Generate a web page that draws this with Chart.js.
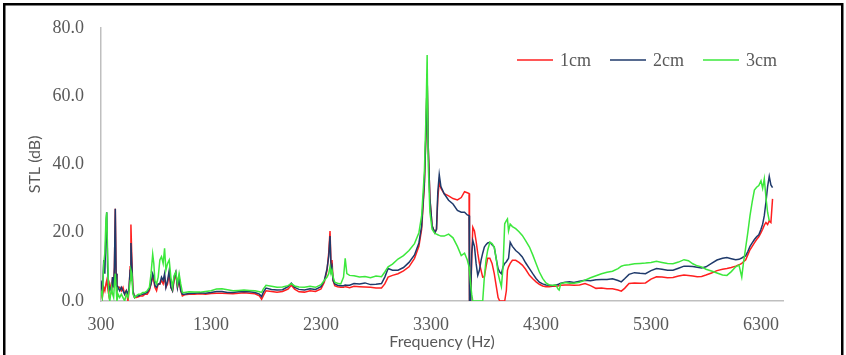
<!DOCTYPE html>
<html>
<head>
<meta charset="utf-8">
<title>STL vs frequency</title>
<script src="https://cdn.jsdelivr.net/npm/chart.js@4.4.1/dist/chart.umd.min.js"></script>
<style>
  html, body { margin: 0; padding: 0; background: #fff; }
  #wrap { position: relative; width: 846px; height: 355px; }
</style>
</head>
<body>
<div id="wrap"><canvas id="stlChart"></canvas></div>
<script>
// frequency points (Hz), shared by the three series
const freq = [
  300, 312, 325, 335, 345, 352, 360, 370, 380, 395,
  405, 415, 422, 430, 437, 445, 455, 470, 485, 500,
  515, 530, 545, 555, 565, 572, 580, 590, 605, 620,
  640, 660, 680, 700, 720, 740, 755, 770, 780, 790,
  805, 820, 835, 850, 865, 878, 890, 905, 920, 935,
  950, 965, 980, 995, 1010, 1025, 1040, 1060, 1100, 1150,
  1200, 1250, 1300, 1350, 1400, 1450, 1500, 1550, 1600, 1650,
  1700, 1740, 1760, 1775, 1800, 1850, 1900, 1950, 2000, 2030,
  2060, 2100, 2150, 2200, 2250, 2300, 2330, 2355, 2370, 2382,
  2392, 2400, 2410, 2425, 2450, 2480, 2505, 2520, 2535, 2560,
  2600, 2650, 2700, 2750, 2800, 2850, 2880, 2910, 2950, 3000,
  3050, 3100, 3150, 3190, 3215, 3240, 3255, 3265, 3275, 3290,
  3310, 3335, 3350, 3362, 3375, 3390, 3420, 3460, 3500, 3540,
  3575, 3605, 3630, 3646, 3650, 3660, 3670, 3680, 3695, 3710,
  3725, 3740, 3755, 3770, 3785, 3800, 3815, 3835, 3855, 3875,
  3895, 3910, 3925, 3940, 3955, 3970, 3985, 3995, 4005, 4020,
  4040, 4070, 4100, 4130, 4160, 4195, 4225, 4255, 4285, 4315,
  4345, 4375, 4405, 4435, 4455, 4465, 4480, 4520, 4560, 4600,
  4650, 4700, 4750, 4800, 4850, 4900, 4950, 5000, 5030, 5060,
  5100, 5150, 5200, 5250, 5300, 5350, 5400, 5450, 5500, 5550,
  5600, 5640, 5680, 5720, 5760, 5800, 5850, 5900, 5950, 5990,
  6030, 6070, 6100, 6125, 6140, 6160, 6180, 6200, 6220, 6240,
  6260, 6280, 6300, 6315, 6330, 6345, 6360, 6375, 6390, 6405
];

// STL (dB)
const stl1cm = [
  3, 1, 4, 3, 5, 6, 4, 2, 5, 3,
  7, 4, 10, 27, 8, 3, 4, 4, 3, 4,
  2, 3, 0, 3, 10, 22.4, 13, 3, 1, 1,
  1.2, 1.5, 1.5, 2, 2, 3, 5, 7, 6, 4,
  3, 5, 5, 6, 5, 7, 4, 5, 8, 4,
  3, 6, 8, 4, 6, 3, 1.5, 1.8, 2, 2,
  2.1, 2, 2.2, 2.3, 2.3, 2.2, 2.1, 2.3, 2.4, 2.3,
  2.1, 1.5, 0.5, 1.5, 3, 2.8, 2.6, 2.8, 3.5, 4.6,
  3.5, 2.7, 2.6, 3, 2.8, 3.5, 5.5, 9, 14, 20.5,
  10, 12, 6, 4.5, 4.2, 4, 4, 4.2, 4.1, 3.9,
  4.3, 4.2, 4.1, 4, 3.8, 3.8, 5, 7, 7.5, 8,
  8.8, 10, 12.5, 16, 21, 34, 50, 65.5, 45, 30,
  22, 20, 21, 30, 35, 33, 31.4, 30.8, 30, 29.6,
  30.3, 32, 31.7, 31.5, 0, 0, 12, 21.6, 20.5, 17.5,
  14, 11, 9, 7, 7.1, 10, 12.5, 12.5, 11, 8,
  4, 1, 0, 0, 0, 0, 3, 9, 10, 11,
  11.9, 11.9, 11.3, 10.5, 9.3, 7.5, 6.5, 5.6, 4.9, 4.4,
  4.2, 4.2, 4.3, 4.3, 4.4, 4.5, 4.6, 4.7, 4.7, 4.6,
  4.7, 5.1, 4.5, 3.7, 3.8, 3.6, 3.6, 3.2, 2.9, 3.7,
  5.1, 5.3, 5.2, 5.3, 6.4, 7.1, 7, 6.8, 6.9, 7.3,
  7.6, 7.5, 7.3, 7.1, 7.2, 7.6, 8.2, 8.9, 9.3, 9.5,
  9.8, 10.2, 10.6, 11, 11.5, 12, 13.5, 15, 16, 17,
  18, 18.8, 20, 21, 22.2, 23, 22.4, 23.5, 23, 29.9
];

const stl2cm = [
  6, 2, 12, 8, 20, 26, 10, 3, 4, 3,
  7, 4, 10, 27, 8, 3, 4, 3, 4, 3,
  2, 3, 2, 4, 9, 17, 11, 3, 1, 1.5,
  1.5, 1.8, 2, 2.2, 2.5, 3.5, 5, 8, 7, 4.5,
  4, 5, 5, 7, 6, 8, 4, 6, 9, 4,
  3, 7, 8.5, 4, 7, 3, 2, 2, 2.2, 2.3,
  2.4, 2.3, 2.5, 2.8, 2.8, 2.5, 2.5, 2.7, 2.8, 2.7,
  2.5, 2, 1.3, 2.5, 3.8, 3.4, 3.2, 3.3, 4.2, 5.2,
  4, 3.4, 3.2, 3.6, 3.4, 4.2, 6, 9.5, 13, 19,
  9, 10, 6, 5, 4.6, 4.5, 4.5, 4.7, 4.6, 4.6,
  5.1, 5, 5.3, 4.8, 4.9, 5.1, 7, 9.5, 9, 9,
  9.8, 11.3, 13.5, 17, 22, 35, 50, 65.7, 45, 30,
  22, 20, 21, 32, 37, 33.5, 31.4, 29.5, 28.4, 26.5,
  26, 26, 25.2, 25, 0, 0, 14, 17.7, 16, 11,
  7.5, 9, 11.9, 14, 15.8, 16.5, 17, 17.2, 16.5, 15.8,
  12, 9.5, 8.5, 8, 10, 11, 11.5, 12, 12.5, 17.2,
  16, 14.8, 14, 12.9, 11.2, 9.5, 8, 6.6, 5.5, 5,
  4.7, 4.6, 4.5, 4.7, 4.8, 5, 5.2, 5.5, 5.6, 5.4,
  5.8, 6.1, 5.9, 6.2, 6.3, 6.3, 6.5, 6, 5.6, 6.5,
  7.8, 8.3, 8.1, 8, 8.9, 9.5, 9.3, 9, 9, 9.6,
  10.2, 10.2, 10.1, 9.9, 9.7, 10, 11, 12, 12.5, 12.7,
  12.4, 12.1, 12.2, 12.6, 12.9, 13.2, 14.5, 16, 17, 18,
  18.8, 19.4, 21, 22.5, 25, 29, 33.5, 36.5, 34, 33.2
];

const stl3cm = [
  3, 1, 11, 14, 24, 26, 14, 2, 0, 4,
  2, 1, 5, 8, 4, 0, 2, 1, 2, 1,
  0, 2, 1, 3, 6, 9, 8, 2, 1, 1.5,
  2, 2, 2.5, 2.5, 3, 4, 8, 13.7, 11, 6,
  5, 7, 12, 13, 11, 15.4, 9, 11, 12, 7,
  4, 7.5, 8.5, 5, 8, 5, 2.5, 2.5, 2.7, 2.6,
  2.6, 2.8, 3, 3.5, 3.6, 3.3, 3, 3.1, 3.2, 3.1,
  3, 2.7, 2.5, 3.5, 4.6, 4.3, 4, 4.1, 4.5, 5.1,
  4.4, 4.1, 4, 4.3, 4, 4.8, 6, 7, 8, 10,
  8, 9, 7, 5.5, 5.2, 5, 7, 12.5, 8, 7.5,
  7.4, 7, 7.2, 6.8, 7.3, 7.1, 8.5, 10, 10.8, 12.3,
  13.3, 14.8, 16.8, 20, 25, 38, 55, 72, 40, 26,
  21, 19.8, 19.6, 19.4, 19.2, 19, 19, 19.6, 18.5, 16,
  13.3, 14, 12, 10, 8.5, 5, 2, 0, 0, 0,
  0, 0, 0, 0, 7, 12, 14.8, 17.2, 16.8, 15.8,
  12, 8, 6, 4.2, 10, 22.6, 23.5, 24, 20.5, 22.5,
  21.8, 21.2, 20.3, 19.2, 17.7, 15.8, 13.5, 11, 8.5, 6.6,
  5.3, 4.7, 4.6, 4.7, 3.5, 3.2, 5.1, 5.4, 5.2, 5.2,
  5.5, 6.1, 6.8, 7.4, 8, 8.4, 8.7, 9.5, 10.2, 10.5,
  10.6, 10.9, 11, 11.1, 11.3, 11.6, 11.3, 11, 10.9, 11.4,
  12.1, 11.8, 10.9, 10.3, 10, 9.3, 8.8, 8.2, 7.6, 7.5,
  8.6, 10, 10.5, 7, 11, 15.5, 20, 25, 29, 32.5,
  33.3, 33.8, 35.2, 33, 35.8, 30.3, 26, 23.5, null, null
];

const seriesLabels = ['1cm', '2cm', '3cm'];
const seriesColors = ['#ff1f1f', '#1f3a6b', '#3ce83c'];
const freqTicks = [300, 1300, 2300, 3300, 4300, 5300, 6300];

[stl1cm, stl2cm, stl3cm].forEach((arr, i) => {
  if (arr.length !== freq.length) {
    throw new Error(seriesLabels[i] + ' has ' + arr.length + ' values, freq has ' + freq.length);
  }
});

function makeSeries(values, i) {
  return {
    label: seriesLabels[i],
    data: freq.map((f, k) => ({ x: f, y: values[k] })),
    borderColor: seriesColors[i],
    backgroundColor: seriesColors[i],
    borderWidth: 1.5,
    pointRadius: 0,
    tension: 0,
    order: 2 - i   // green drawn on top, like the original
  };
}

// legend sits inside the plot, top right, plus the outer frame
const insideLegend = {
  id: 'insideLegend',
  afterDraw(chart) {
    const ctx = chart.ctx;
    const y = 60;
    const lineStart = [517, 610, 703];
    ctx.save();
    ctx.font = '18px "Liberation Serif"';
    ctx.textBaseline = 'middle';
    chart.data.datasets.forEach((ds, i) => {
      ctx.strokeStyle = ds.borderColor;
      ctx.lineWidth = 1.5;
      ctx.beginPath();
      ctx.moveTo(lineStart[i], y);
      ctx.lineTo(lineStart[i] + 36, y);
      ctx.stroke();
      ctx.fillStyle = '#595959';
      ctx.fillText(ds.label, lineStart[i] + 43, y + 1);
    });
    ctx.strokeStyle = '#000';
    ctx.lineWidth = 2.5;
    ctx.strokeRect(4.25, 4.25, 838, 370);
    ctx.restore();
  }
};

const tickFont = { family: 'Liberation Serif', size: 18 };
const titleFont = { family: 'Lato', size: 16 };

new Chart(document.getElementById('stlChart'), {
  type: 'line',
  data: {
    datasets: [makeSeries(stl1cm, 0), makeSeries(stl2cm, 1), makeSeries(stl3cm, 2)]
  },
  options: {
    responsive: true,
    maintainAspectRatio: false,
    animation: false,
    layout: { padding: { left: 21, top: 27, right: 63, bottom: 0 } },
    plugins: {
      legend: { display: false },
      tooltip: { enabled: false }
    },
    scales: {
      x: {
        type: 'linear',
        min: 300,
        max: 6500,
        afterBuildTicks: s => { s.ticks = freqTicks.map(v => ({ value: v })); },
        afterFit: s => { s.height = 54; },
        grid: { drawOnChartArea: false, drawTicks: false },
        border: { color: '#bfbfbf', width: 1.5 },
        ticks: {
          padding: 13,
          color: '#595959',
          font: tickFont,
          maxRotation: 0,
          autoSkip: false,
          callback: v => String(v)
        },
        title: {
          display: true,
          text: 'Frequency (Hz)',
          color: '#595959',
          font: titleFont,
          padding: { top: 0, bottom: 4 }
        }
      },
      y: {
        min: 0,
        max: 80,
        afterFit: s => { s.width = 80; },
        grid: { drawOnChartArea: false, drawTicks: false },
        border: { color: '#bfbfbf', width: 1.5 },
        ticks: {
          stepSize: 20,
          padding: 17,
          color: '#595959',
          font: tickFont,
          callback: v => Number(v).toFixed(1)
        },
        title: {
          display: true,
          text: 'STL (dB)',
          color: '#595959',
          font: titleFont,
          padding: { top: 4, bottom: 0 }
        }
      }
    }
  },
  plugins: [insideLegend]
});
</script>
</body>
</html>
